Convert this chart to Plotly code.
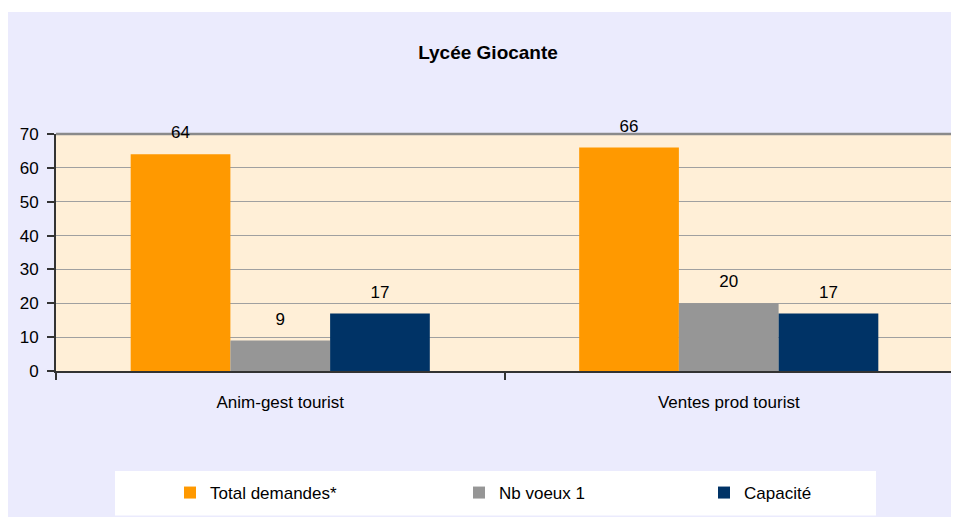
import plotly.graph_objects as go

categories = ["Anim-gest tourist", "Ventes prod tourist"]
series_names = ["Total demandes*", "Nb voeux 1", "Capacité"]
total_demandes = [64, 66]
nb_voeux_1 = [9, 20]
capacite = [17, 17]
series_values = [total_demandes, nb_voeux_1, capacite]
series_colors = ["#FF9900", "#969696", "#003366"]
title_text = "Lycée Giocante"
y_ticks = [0, 10, 20, 30, 40, 50, 60, 70]

# page is offset by the 8px body margin; figure fills the rest of the window
W, H = 951, 509
ML, MR, MT, MB = 48, 6, 126, 146
PW, PH = W - ML - MR, H - MT - MB
OFF = 8  # body margin

def px_x(p):  # page x -> paper
    return (p - OFF - ML) / PW

def px_y(p):  # page y -> paper
    return (H - MB - (p - OFF)) / PH

FONT = "Liberation Sans, Arial, sans-serif"
FS = 17

fig = go.Figure()
legend_ids = ["legend", "legend2", "legend3"]
for name, vals, col, lg in zip(series_names, series_values, series_colors, legend_ids):
    fig.add_trace(go.Bar(x=categories, y=vals, name=name, marker=dict(color=col, line=dict(width=0)),
                         legend=lg))
for name, vals in zip(series_names, series_values):
    fig.add_trace(go.Scatter(x=categories, y=vals, mode="markers+text", text=[str(v) for v in vals],
                             textposition="top center", marker=dict(size=17, opacity=0),
                             textfont=dict(family=FONT, size=FS, color="#000000"),
                             showlegend=False, hoverinfo="skip", cliponaxis=False))

shapes = [
    # white strip at top
    dict(type="rect", xref="paper", yref="paper", x0=px_x(0), x1=px_x(970), y0=px_y(12), y1=px_y(0),
         fillcolor="white", line=dict(width=0), layer="above"),
    # legend white box
    dict(type="rect", xref="paper", yref="paper", x0=px_x(115), x1=px_x(876), y0=px_y(515.5), y1=px_y(471),
         fillcolor="white", line=dict(width=0), layer="above"),
    # top and right plot border
    dict(type="line", xref="paper", yref="paper", x0=0, x1=1, y0=1, y1=1,
         line=dict(color="#8A8A8A", width=2.5), layer="between"),
    dict(type="line", xref="paper", yref="paper", x0=1, x1=1, y0=0, y1=1,
         line=dict(color="#8A8A8A", width=3), layer="between"),
]

legend_lefts = [170, 459, 704]
leg = {}
for lg, lx in zip(legend_ids, legend_lefts):
    leg[lg] = dict(x=px_x(lx), y=px_y(493), xanchor="left", yanchor="middle", orientation="h",
                   bgcolor="rgba(0,0,0,0)", borderwidth=0,
                   font=dict(family=FONT, size=FS, color="#000000"))

fig.update_layout(
    width=W, height=H,
    margin=dict(l=ML, r=MR, t=MT, b=MB, pad=0),
    paper_bgcolor="#EBEBFD",
    plot_bgcolor="#FFEFD7",
    barmode="group", bargap=0.333, bargroupgap=0,
    scattermode="group", scattergap=0.333,
    font=dict(family=FONT, size=FS, color="#000000"),
    title=dict(text="<b>" + title_text + "</b>", x=(488 - OFF) / W, xref="container", xanchor="center",
               y=1 - (52 - OFF) / H, yref="container", yanchor="middle",
               font=dict(family=FONT, size=19, color="#000000")),
    shapes=shapes,
    showlegend=True,
    **leg,
)
fig.update_xaxes(showgrid=False, showline=True, linecolor="#333333", linewidth=2,
                 ticks="outside", tickson="boundaries", ticklen=7, tickcolor="#333333", tickwidth=1.5,
                 ticklabelstandoff=15, tickfont=dict(family=FONT, size=FS))
fig.update_yaxes(range=[0, 70], tickvals=y_ticks, showgrid=True, gridcolor="#A0A0A0", gridwidth=1,
                 showline=True, linecolor="#333333", linewidth=2, zeroline=False,
                 ticks="outside", ticklen=7, tickcolor="#333333", tickwidth=1.5,
                 ticklabelstandoff=5, tickfont=dict(family=FONT, size=FS))

fig.write_html("out.html")
